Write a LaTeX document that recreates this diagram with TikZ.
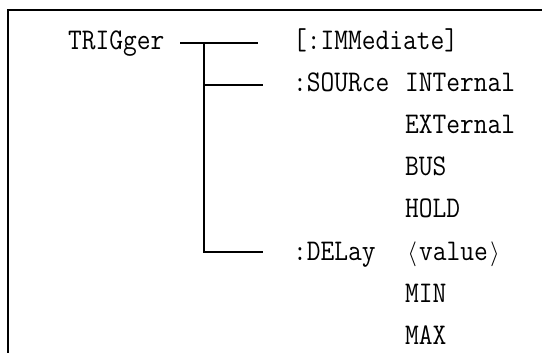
\documentclass[tikz,border=0pt]{standalone}
\usepackage{fontspec}
\newfontfamily\cmdfont[FakeStretch=0.89]{Latin Modern Mono}
\begin{document}
\begin{tikzpicture}[x=1pt,y=-1pt,
  lbl/.style={anchor=base west,inner sep=0pt,font=\cmdfont\fontsize{30}{36}\selectfont},
  frame/.style={line width=2.4pt},
  conn/.style={line width=2pt}]
\useasboundingbox (0,0) rectangle (542,353);
% frame
\coordinate (ftr) at (542,10);
\coordinate (ftl) at (8,10);
\coordinate (fbl) at (8,353);
\draw[frame] (ftr) -- (ftl) -- (fbl);
% texts
\node[lbl] (trig) at (68,50) {TRIGger};
\node[lbl] (imm)  at (293,50) {[:IMMediate]};
\node[lbl] (sour) at (293,92) {:SOURce};
\node[lbl] (int)  at (405,92) {INTernal};
\node[lbl] (ext)  at (405,134) {EXTernal};
\node[lbl] (bus)  at (405,176) {BUS};
\node[lbl] (hold) at (405,218) {HOLD};
\node[lbl] (del)  at (293,260) {:DELay};
\node[lbl] (val)  at (405,260) {\makebox[14pt]{$\langle$}value\makebox[14pt]{$\rangle$}};
\node[lbl] (min)  at (405,302) {MIN};
\node[lbl] (max)  at (405,344) {MAX};
% connectors
\coordinate (a1) at (180,43);
\coordinate (b1) at (258,43);
\coordinate (j1) at (204,43);
\coordinate (j2) at (204,85);
\coordinate (b2) at (263,85);
\coordinate (j3) at (204,252);
\coordinate (b3) at (263,252);
\draw[conn] (a1) -- (b1);
\draw[conn] (j1) -- (j3) -- (b3);
\draw[conn] (j2) -- (b2);
\end{tikzpicture}
\end{document}
